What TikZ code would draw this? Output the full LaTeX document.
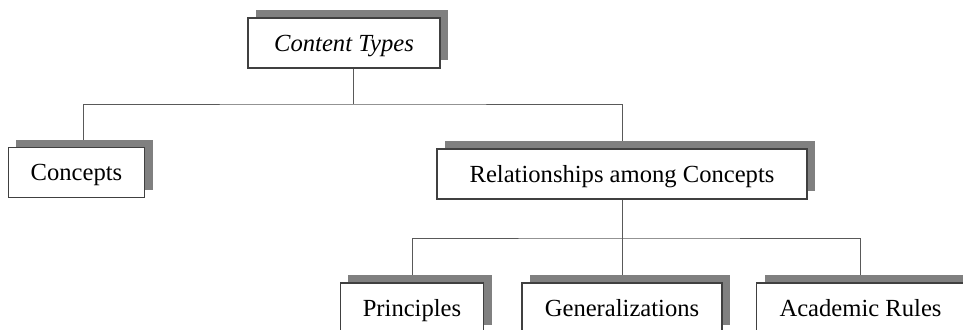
\documentclass[tikz,border=0pt]{standalone}
\usepackage{fontspec}
\setmainfont{Liberation Serif}
\usetikzlibrary{shadows,backgrounds}

\begin{document}
\begin{tikzpicture}[x=0.03cm, y=-0.03cm,
		box/.style={draw=black!75, line width=0.9pt, fill=white, inner xsep=0.68cm,
			text height=0.49cm, text depth=0pt,
			minimum height=1.5cm, font=\fontsize{21}{25}\selectfont,
			drop shadow={shadow xshift=0.24cm, shadow yshift=0.24cm, fill=black!50, opacity=1}},
		link/.style={draw=black!65, line width=0.8pt}]
		%%%%% START %%%%%
		
		\useasboundingbox (0, 0) rectangle (963, 329);
		\clip (0, 0) rectangle (963, 329);
		
		\node[box, minimum width=5.76cm] (types) at (344, 43) {\itshape Content Types};
		
		\node[box] (concepts) at (76.5, 172.5) {Concepts};
		\node[box, minimum width=11.1cm] (relations) at (622, 174) {Relationships among Concepts};
		
		\node[box] (principles) at (412, 308) {Principles};
		\node[box, minimum width=6cm] (general) at (622, 308) {Generalizations};
		\node[box] (rules) at (860.5, 308) {Academic Rules};
		
		\coordinate (top bar) at (353, 104);
		\coordinate (low bar) at (622, 238);
		
		\begin{scope}[on background layer]
			\draw[link] (top bar |- types.south) -- (top bar);
			\draw[link] ([xshift=0.2cm]concepts.north) |- (top bar) -| (relations.north);
			\draw[link] (relations.south) -- (low bar);
			\draw[link] (principles.north) |- (low bar) -| (rules.north);
			\draw[link] (low bar) -- (general.north);
		\end{scope}
		
		%%%%% END %%%%%
	\end{tikzpicture}
\end{document}
